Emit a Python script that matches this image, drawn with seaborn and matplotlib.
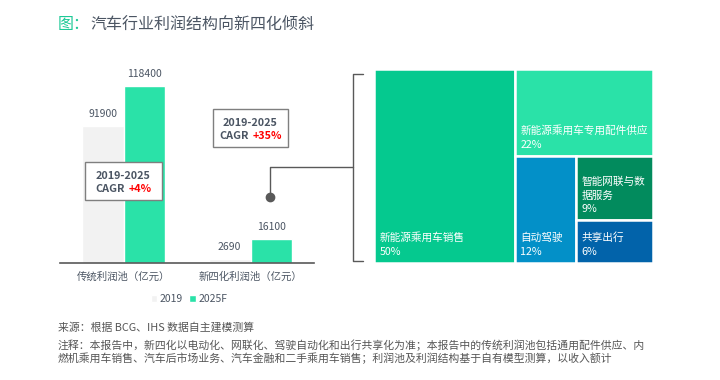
import numpy as np
import pandas as pd
import matplotlib
matplotlib.use('Agg')
import matplotlib.pyplot as plt
import seaborn as sns
from matplotlib.patches import Rectangle, Patch
from matplotlib.lines import Line2D
from matplotlib.offsetbox import TextArea, HPacker, VPacker, AnnotationBbox, DrawingArea

# 数据
categories = ['传统利润池（亿元）', '新四化利润池（亿元）']
years = ['2019', '2025F']
profit_2019 = [91900, 2690]
profit_2025 = [118400, 16100]
cagr_period = '2019-2025'
cagr_values = ['+4%', '+35%']

tree_labels = ['新能源乘用车销售', '新能源乘用车专用配件供应', '自动驾驶',
               '智能网联与数\n据服务', '共享出行']
tree_shares = [50, 22, 12, 9, 6]
tree_colors = ['#05C98F', '#2AE2A8', '#0390C8', '#028B5D', '#0263AA']

TEXT = '#4B5563'
GREEN = '#2AE2A8'
GREY = '#F2F2F2'
LINE = '#595959'

W, H = 720, 380


def fig_box(left, top, right, bottom):
    return [left / W, 1 - bottom / H, (right - left) / W, (bottom - top) / H]


def px(x, y):
    return x / W, 1 - y / H


def slice_layout(values, x, y, w, h, split_x=True):
    """简单的交替切分 treemap 布局"""
    if len(values) == 1:
        return [(x, y, w, h)]
    frac = values[0] / sum(values)
    if split_x:
        first = (x, y, w * frac, h)
        rest = slice_layout(values[1:], x + w * frac, y, w * (1 - frac), h, False)
    else:
        first = (x, y + h * (1 - frac), w, h * frac)
        rest = slice_layout(values[1:], x, y, w, h * (1 - frac), True)
    return [first] + rest


sns.set_theme(style='white')
plt.rcParams['font.family'] = ['Noto Sans CJK SC', 'DejaVu Sans']

fig = plt.figure(figsize=(7.2, 3.8), dpi=100)

# 标题
fig.text(*px(58, 25), '图：', color='#1DC996', fontsize=11.5, va='center')
fig.text(*px(90.5, 25), '汽车行业利润结构向新四化倾斜', color=TEXT, fontsize=11.5, va='center')

# 柱状图
ax = fig.add_axes(fig_box(60, 60, 314, 263))
df = pd.DataFrame({
    'cat': categories * 2,
    'year': [years[0]] * 2 + [years[1]] * 2,
    'profit': profit_2019 + profit_2025,
})
sns.barplot(data=df, x='cat', y='profit', hue='year', palette=[GREY, GREEN],
            width=0.66, saturation=1, legend=False, ax=ax)
for c in ax.containers:
    ax.bar_label(c, fmt='%d', padding=5, fontsize=7.5, color=TEXT)
ax.set_xlim(-0.5, 1.5)
ax.set_ylim(0, 135800)
ax.set_xlabel('')
ax.set_ylabel('')
ax.set_yticks([])
sns.despine(ax=ax, left=True)
ax.spines['bottom'].set_color(LINE)
ax.spines['bottom'].set_linewidth(1.2)
ax.tick_params(axis='x', length=0, pad=6, labelsize=7.5, labelcolor=TEXT)

# CAGR 标注框
box_pos = [(0, 54850), (1, 90300)]
box_width = [47, 45.5]
for (bx, by), val, bw in zip(box_pos, cagr_values, box_width):
    line1 = TextArea(cagr_period, textprops=dict(color=TEXT, weight='bold', size=7.8))
    line2 = HPacker(children=[
        TextArea('CAGR', textprops=dict(color=TEXT, weight='bold', size=7.8)),
        TextArea(val, textprops=dict(color='#FF0000', weight='bold', size=7.8)),
    ], pad=0, sep=2.5, align='baseline')
    packed = VPacker(children=[DrawingArea(bw, 0), line1, line2],
                     align='center', pad=0, sep=2)
    ab = AnnotationBbox(packed, (bx, by), xycoords='data', frameon=True,
                        pad=0.45, fontsize=10,
                        bboxprops=dict(edgecolor='#7F7F7F', facecolor='white', lw=1))
    ax.add_artist(ab)

# 图例
fig.legend(handles=[Patch(facecolor=GREY), Patch(facecolor=GREEN)], labels=years,
           loc='center', bbox_to_anchor=px(189, 299), ncol=2, frameon=False,
           fontsize=7.5, labelcolor=TEXT, handlelength=0.6, handleheight=0.6,
           handletextpad=0.25, columnspacing=0.6)

# 连接线与括号
fig.add_artist(Line2D(*zip(px(270, 197), px(270, 167), px(353, 167)),
                      transform=fig.transFigure, color=LINE, lw=1))
fig.add_artist(Line2D(*zip(px(270, 197)), transform=fig.transFigure,
                      marker='o', markersize=6, color=LINE, lw=0))
fig.add_artist(Line2D(*zip(px(363, 74), px(353, 74), px(353, 261), px(363, 261)),
                      transform=fig.transFigure, color=LINE, lw=1))

# Treemap
ax2 = fig.add_axes(fig_box(374, 69, 653, 263))
ax2.set_xlim(0, 1)
ax2.set_ylim(0, 1)
ax2.axis('off')
rects = slice_layout(tree_shares, 0, 0, 1, 1)
for (x, y, w, h), lab, share, col in zip(rects, tree_labels, tree_shares, tree_colors):
    ax2.add_patch(Rectangle((x, y), w, h, facecolor=col, edgecolor='white', lw=1.8))
    ax2.annotate(f'{lab}\n{share}%', xy=(x, y), xytext=(4, 4.5),
                 textcoords='offset points', ha='left', va='bottom',
                 color='white', fontsize=7.7, linespacing=1.45)

# 注释
NOTE = '#555555'
fig.text(*px(58, 327), '来源：根据 BCG、IHS 数据自主建模测算', fontsize=7.8,
         color=NOTE, va='center')
fig.text(*px(58, 339), '注释：本报告中，新四化以电动化、网联化、驾驶自动化和出行共享化为准；'
         '本报告中的传统利润池包括通用配件供应、内\n'
         '燃机乘用车销售、汽车后市场业务、汽车金融和二手乘用车销售；'
         '利润池及利润结构基于自有模型测算，以收入额计',
         fontsize=7.8, color=NOTE, va='top', linespacing=1.2)

fig.savefig('out.png', dpi=100)
